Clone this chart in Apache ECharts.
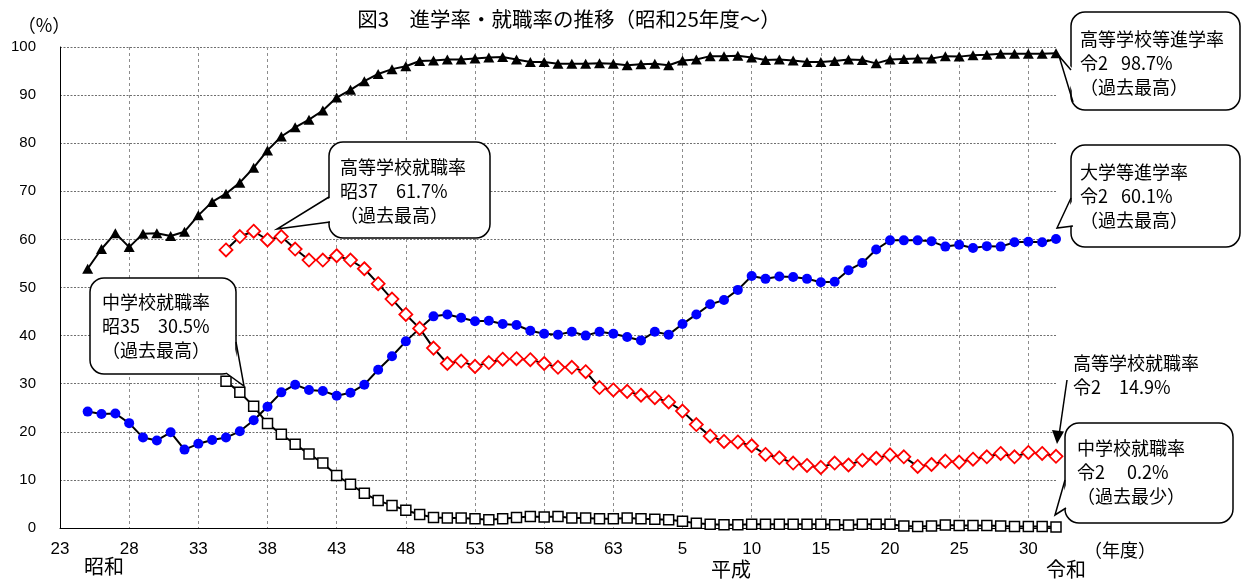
<!DOCTYPE html>
<html><head><meta charset="utf-8">
<script src="https://cdn.jsdelivr.net/npm/echarts@6/dist/echarts.min.js"></script>
<style>html,body{margin:0;padding:0;background:#fff}#c{width:1245px;height:583px}</style>
</head><body><div id="c"></div>
<script>
// 年度 (昭和23〜令和2)
const categories = ('昭23 昭24 昭25 昭26 昭27 昭28 昭29 昭30 昭31 昭32 昭33 昭34 昭35 昭36 昭37 昭38 昭39 昭40 ' +
  '昭41 昭42 昭43 昭44 昭45 昭46 昭47 昭48 昭49 昭50 昭51 昭52 昭53 昭54 昭55 昭56 昭57 昭58 昭59 昭60 ' +
  '昭61 昭62 昭63 平1 平2 平3 平4 平5 平6 平7 平8 平9 平10 平11 平12 平13 平14 平15 平16 平17 平18 ' +
  '平19 平20 平21 平22 平23 平24 平25 平26 平27 平28 平29 平30 令1 令2').split(' ');

// 高等学校等進学率 (昭25〜令2)
const hsAdvance = [
  53.9, 58.0, 61.3, 58.4, 61.2, 61.3, 60.7, 61.6, 65.0, 67.8,
  69.5, 71.8, 74.9, 78.5, 81.4, 83.3, 84.9, 86.8, 89.5, 91.1,
  92.9, 94.4, 95.4, 96.0, 97.1, 97.2, 97.4, 97.4, 97.6, 97.8,
  97.9, 97.4, 96.9, 96.9, 96.5, 96.5, 96.5, 96.6, 96.5,
  96.2, 96.4, 96.5, 96.2, 97.2, 97.4, 98.1, 98.1, 98.2, 97.8,
  97.3, 97.4, 97.2, 96.9, 96.9, 97.1, 97.4, 97.3, 96.6, 97.4,
  97.5, 97.6, 97.6, 98.1, 98.0, 98.3, 98.4, 98.6, 98.6, 98.6,
  98.6, 98.7
];
// 大学等進学率 (昭25〜令2)
const univAdvance = [
  24.2, 23.7, 23.8, 21.8, 18.8, 18.2, 19.9, 16.3, 17.5, 18.3,
  18.8, 20.1, 22.4, 25.2, 28.2, 29.8, 28.7, 28.5, 27.5, 28.1,
  29.8, 32.9, 35.7, 38.8, 41.5, 44.0, 44.4, 43.7, 43.0, 43.1,
  42.4, 42.2, 41.0, 40.4, 40.2, 40.8, 40.0, 40.8, 40.4,
  39.7, 39.0, 40.8, 40.2, 42.4, 44.4, 46.5, 47.4, 49.5, 52.4,
  51.8, 52.3, 52.2, 51.8, 51.1, 51.2, 53.6, 55.1, 57.9, 59.8,
  59.8, 59.8, 59.6, 58.5, 58.9, 58.2, 58.6, 58.5, 59.4, 59.5,
  59.4, 60.1
];
// 高等学校就職率 (昭35〜令2)
const hsEmploy = [
  57.8, 60.6, 61.7, 59.9, 60.6, 58.0, 55.7, 55.7, 56.6, 55.7,
  53.9, 50.8, 47.6, 44.4, 41.5, 37.4, 34.2, 34.7, 33.6, 34.4,
  35.1, 35.2, 35.0, 34.2, 33.4, 33.4, 32.5, 29.2, 28.7,
  28.4, 27.6, 27.1, 26.2, 24.3, 21.5, 19.1, 18.0, 17.9, 17.1,
  15.3, 14.6, 13.5, 13.0, 12.6, 13.5, 13.1, 14.1, 14.5, 15.2,
  14.8, 12.8, 13.2, 13.9, 13.7, 14.3, 14.8, 15.5, 14.8, 15.7,
  15.5, 14.9
];
// 中学校就職率 (昭35〜令2)
const jhEmploy = [
  30.5, 28.2, 25.3, 21.7, 19.5, 17.4, 15.4, 13.5, 10.9, 9.1,
  7.2, 5.7, 4.7, 3.7, 2.8, 2.2, 2.1, 2.1, 1.9, 1.7,
  1.9, 2.2, 2.4, 2.3, 2.4, 2.1, 2.1, 1.9, 1.9,
  2.1, 1.9, 1.8, 1.7, 1.4, 1.0, 0.8, 0.7, 0.7, 0.8,
  0.8, 0.8, 0.8, 0.8, 0.8, 0.7, 0.6, 0.8, 0.8, 0.8,
  0.4, 0.3, 0.4, 0.6, 0.5, 0.5, 0.5, 0.4, 0.3, 0.3,
  0.3, 0.2
];

const JP = '"Noto Sans CJK JP", "Noto Sans", sans-serif';
const NUM = '"Liberation Sans", "Noto Sans", sans-serif';

function pairs(arr, start) {
  const off = categories.indexOf(start);
  return arr.map((v, i) => [categories[off + i], v]);
}

function txt(x, y, text, size, align, vAlign, extra) {
  return Object.assign({
    type: 'text', x: x, y: y, z: 110,
    style: { text: text, fontSize: size, fontFamily: JP, fill: '#000',
      align: align, textAlign: align, verticalAlign: vAlign, textVerticalAlign: vAlign, lineHeight: 24 }
  }, extra || {});
}

function callout(b, tail, lines, tx, ty) {
  const x = b[0], y = b[1], w = b[2], h = b[3];
  const cx = x + w / 2, cy = y + h / 2;
  const inward = p => { const dx = cx - p[0], dy = cy - p[1], d = Math.hypot(dx, dy); return [p[0] + dx / d * 3, p[1] + dy / d * 3]; };
  return [
    { type: 'rect', z: 100, shape: { x: x, y: y, width: w, height: h, r: 14 }, style: { fill: '#fff', stroke: '#000', lineWidth: 1.5 } },
    { type: 'polygon', z: 101, shape: { points: [inward(tail[0]), tail[1], inward(tail[2])] }, style: { fill: '#fff' } },
    { type: 'polyline', z: 102, shape: { points: tail }, style: { stroke: '#000', lineWidth: 1.5, fill: null } },
    txt(tx, ty, lines.join('\n'), 18, 'left', 'top')
  ];
}

const graphics = [].concat(
  [txt(569, 19, '図3　進学率・就職率の推移（昭和25年度～）', 20.5, 'center', 'middle')],
  [txt(44, 25, '（%）', 18, 'center', 'middle')],
  [txt(104, 566, '昭和', 20, 'center', 'middle')],
  [txt(731, 569, '平成', 20, 'center', 'middle')],
  [txt(1066, 569, '令和', 20, 'center', 'middle')],
  [txt(1120, 550, '（年度）', 18, 'center', 'middle')],
  callout([1071, 12, 169, 98], [[1071, 70], [1059, 56], [1073, 102]],
    ['高等学校等進学率', '令2\u2002 98.7%', '（過去最高）'], 1080, 27),
  callout([1071, 145, 169, 102], [[1071, 198], [1057, 228], [1073, 226]],
    ['大学等進学率', '令2\u2002 60.1%', '（過去最高）'], 1080, 160),
  callout([1065, 423, 168, 100], [[1065, 480], [1055, 515], [1066, 508]],
    ['中学校就職率', '令2　 0.2%', '（過去最少）'], 1077, 436),
  callout([329, 142, 161, 96], [[329, 197], [277, 229], [330, 222]],
    ['高等学校就職率', '昭37　61.7%', '（過去最高）'], 340, 155),
  callout([90, 278, 146, 96], [[236, 342], [244, 386], [226, 373]],
    ['中学校就職率', '昭35　30.5%', '（過去最高）'], 102, 290),
  [
    txt(1073, 351, '高等学校就職率\n令2　14.9%', 18, 'left', 'top'),
    { type: 'line', z: 105, shape: { x1: 1067, y1: 380, x2: 1059.5, y2: 432 }, style: { stroke: '#000', lineWidth: 1.5 } },
    { type: 'polygon', z: 105, shape: { points: [[1057, 444], [1052, 430], [1064, 431.5]] }, style: { fill: '#000' } }
  ]
);

const lineCommon = { type: 'line', showAllSymbol: true, animation: false, silent: true,
  lineStyle: { color: '#000', width: 2 }, emphasis: { disabled: true } };

const option = {
  animation: false,
  backgroundColor: '#fff',
  grid: { left: 60, right: 189, top: 47, bottom: 55, containLabel: false },
  xAxis: {
    type: 'category', data: categories, boundaryGap: false,
    axisLine: { show: true, lineStyle: { color: '#000', width: 1 } },
    axisTick: { show: false },
    axisLabel: { interval: 4, margin: 13, color: '#000', fontSize: 17, fontFamily: NUM,
      formatter: v => v.replace(/^\D+/, '') },
    splitLine: { show: true, interval: 4, lineStyle: { color: '#8c8c8c', width: 1, type: [3, 3] } }
  },
  yAxis: {
    type: 'value', min: 0, max: 100, interval: 10,
    axisLine: { show: true, lineStyle: { color: '#000', width: 1 } },
    axisTick: { show: false },
    axisLabel: { margin: 24, color: '#000', fontSize: 15, fontFamily: NUM },
    splitLine: { show: true, lineStyle: { color: '#6e6e6e', width: 1, type: [2, 1.5] } }
  },
  series: [
    Object.assign({}, lineCommon, { name: '高等学校等進学率', data: pairs(hsAdvance, '昭25'),
      symbol: 'triangle', symbolSize: [11, 10], itemStyle: { color: '#000' }, z: 3 }),
    Object.assign({}, lineCommon, { name: '大学等進学率', data: pairs(univAdvance, '昭25'),
      symbol: 'circle', symbolSize: 10, itemStyle: { color: '#0000ff' }, z: 3 }),
    Object.assign({}, lineCommon, { name: '中学校就職率', data: pairs(jhEmploy, '昭35'),
      symbol: 'rect', symbolSize: 10, itemStyle: { color: '#fff', borderColor: '#000', borderWidth: 1.5 }, z: 4 }),
    Object.assign({}, lineCommon, { name: '高等学校就職率', data: pairs(hsEmploy, '昭35'),
      symbol: 'diamond', symbolSize: 13, itemStyle: { color: '#fff', borderColor: '#ff0000', borderWidth: 1.8 }, z: 5 })
  ],
  graphic: { elements: graphics }
};

const chart = echarts.init(document.getElementById('c'), null, { renderer: 'canvas' });
chart.setOption(option);
</script>
</body></html>
